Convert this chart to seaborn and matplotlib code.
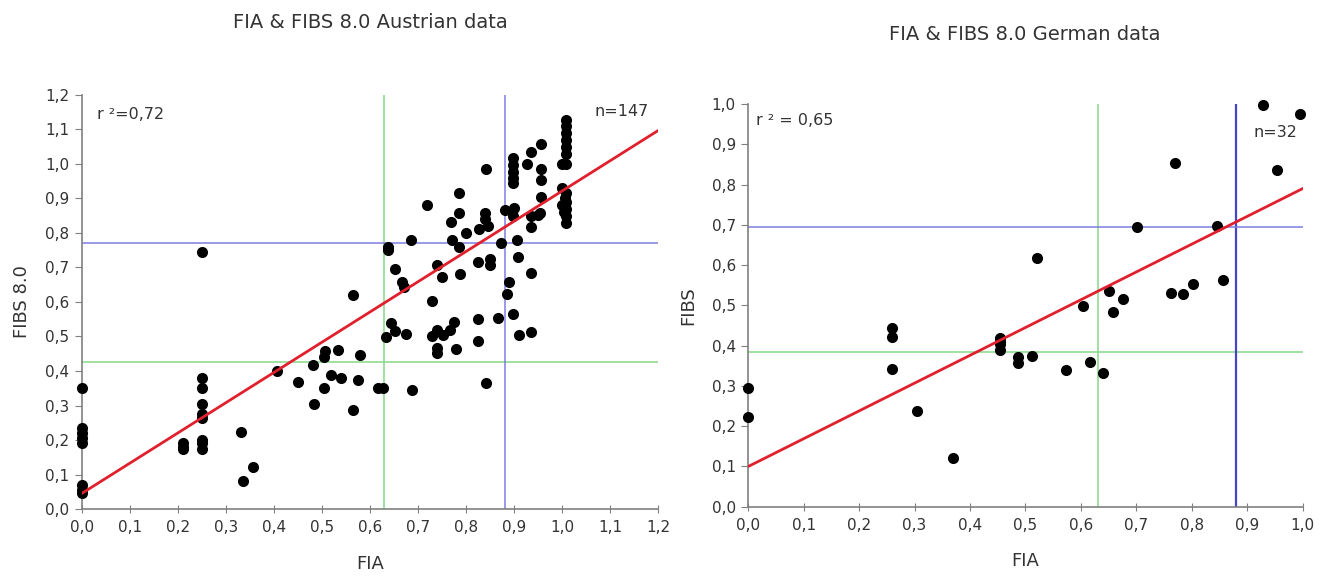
import numpy as np
import pandas as pd
import matplotlib
matplotlib.use("Agg")
import matplotlib.pyplot as plt
from matplotlib.ticker import FuncFormatter, MultipleLocator
import seaborn as sns

# Austrian sample (n=147)
aut_fia = [
    0, 0, 0, 0, 0, 0, 0, 0,
    0.21, 0.21, 0.21,
    0.25, 0.25, 0.25, 0.25, 0.25, 0.25, 0.25, 0.25, 0.25,
    0.332, 0.335, 0.356,
    0.406, 0.45, 0.483, 0.482,
    0.504, 0.505, 0.507, 0.519, 0.533, 0.539, 0.565, 0.575, 0.579, 0.565,
    0.617, 0.628,
    0.688, 0.633, 0.644, 0.651, 0.674, 0.637, 0.637, 0.651, 0.667, 0.671, 0.686,
    0.728, 0.728, 0.739, 0.751, 0.767, 0.774, 0.739, 0.739, 0.779, 0.739, 0.749, 0.719,
    0.824, 0.824, 0.867, 0.898, 0.909, 0.935, 0.841,
    0.768, 0.77, 0.786, 0.8, 0.786, 0.786, 0.788,
    0.841, 0.839, 0.839, 0.827, 0.845, 0.824, 0.85, 0.85, 0.873, 0.88,
    0.897, 0.897, 0.897, 0.897, 0.897, 0.9, 0.897, 0.906, 0.907, 0.89, 0.886,
    0.955, 0.935, 0.927, 0.955, 0.955, 0.955, 0.934, 0.949, 0.935, 0.935, 0.953,
    1.008, 1.008, 1.008, 1.008, 1.008, 1.008, 1.0, 1.008, 1.0, 1.008, 1.005,
    1.008, 1.0, 1.008, 1.003, 1.008, 1.008,
]
aut_fibs = [
    0.35, 0.235, 0.22, 0.205, 0.19, 0.07, 0.056, 0.045,
    0.19, 0.18, 0.175,
    0.38, 0.35, 0.305, 0.275, 0.265, 0.2, 0.19, 0.175, 0.745,
    0.224, 0.081, 0.123,
    0.399, 0.368, 0.303, 0.416,
    0.351, 0.442, 0.459, 0.387, 0.462, 0.38, 0.287, 0.374, 0.445, 0.62,
    0.351, 0.351,
    0.345, 0.498, 0.539, 0.515, 0.508, 0.76, 0.75, 0.697, 0.658, 0.643, 0.779,
    0.603, 0.5, 0.519, 0.503, 0.519, 0.542, 0.467, 0.451, 0.464, 0.706, 0.672, 0.881,
    0.551, 0.488, 0.554, 0.564, 0.503, 0.512, 0.364,
    0.832, 0.781, 0.76, 0.799, 0.857, 0.915, 0.682,
    0.985, 0.857, 0.842, 0.813, 0.82, 0.716, 0.726, 0.706, 0.77, 0.868,
    1.017, 0.997, 0.978, 0.958, 0.944, 0.871, 0.848, 0.781, 0.731, 0.658, 0.624,
    1.058, 1.036, 1.0, 0.985, 0.953, 0.903, 0.849, 0.851, 0.818, 0.684, 0.858,
    1.128, 1.11, 1.09, 1.07, 1.05, 1.03, 1.0, 1.0, 0.93, 0.915, 0.9,
    0.89, 0.88, 0.87, 0.86, 0.85, 0.83,
]

# German sample (n=32)
ger_fia = [
    0, 0, 0.259, 0.259, 0.259, 0.305, 0.37, 0.454, 0.454, 0.454, 0.454,
    0.487, 0.487, 0.511, 0.52, 0.573, 0.603, 0.616, 0.64, 0.651, 0.657,
    0.675, 0.702, 0.762, 0.77, 0.785, 0.802, 0.846, 0.857, 0.928, 0.954, 0.996,
]
ger_fibs = [
    0.294, 0.222, 0.443, 0.421, 0.342, 0.238, 0.12, 0.418, 0.41, 0.405, 0.389,
    0.372, 0.356, 0.374, 0.618, 0.339, 0.498, 0.36, 0.333, 0.536, 0.484,
    0.517, 0.695, 0.531, 0.853, 0.528, 0.553, 0.698, 0.563, 0.998, 0.836, 0.975,
]

# Linear fits (intercept, slope) and cut-off lines
aut_fit = (0.045, 0.877)
ger_fit = (0.10, 0.69)
aut_cut_x = (0.63, 0.88)
aut_cut_y = (0.427, 0.77)
ger_cut_x = (0.63, 0.88)
ger_cut_y = (0.385, 0.695)

sns.set_style("ticks")
plt.rcParams["font.family"] = ["DejaVu Sans"]

GREEN = "#86d986"
BLUE = "#7d7de0"
RED = "#e0202c"
GREY = "#808080"
TXT = "#333333"

fig = plt.figure(figsize=(13.22, 5.76), dpi=100)
ax1 = fig.add_axes([0.0618, 0.1163, 0.4362, 0.7188])
ax2 = fig.add_axes([0.5660, 0.1202, 0.4194, 0.6993])

comma = FuncFormatter(lambda v, p: f"{v:.1f}".replace(".", ","))


def panel(ax, fia, fibs, fit, cut_x, cut_y, lim, ylabel, r2, n,
          r2_pos, n_pos, vblue_color, vblue_lw):
    df = pd.DataFrame({"FIA": fia, "FIBS": fibs})
    ax.axvline(cut_x[0], color=GREEN, lw=1.1, zorder=1)
    ax.axhline(cut_y[0], color=GREEN, lw=1.1, zorder=1)
    ax.axvline(cut_x[1], color=vblue_color, lw=vblue_lw, zorder=1)
    ax.axhline(cut_y[1], color=BLUE, lw=1.1, zorder=1)
    sns.scatterplot(data=df, x="FIA", y="FIBS", ax=ax, color="black",
                    s=64, edgecolor="black", linewidth=0, clip_on=False,
                    zorder=3)
    xs = np.array([0.0, lim[0]])
    ax.plot(xs, fit[0] + fit[1] * xs, color=RED, lw=2.0, zorder=4)
    ax.set_xlim(0, lim[0])
    ax.set_ylim(0, lim[1])
    ax.xaxis.set_major_locator(MultipleLocator(0.1))
    ax.yaxis.set_major_locator(MultipleLocator(0.1))
    ax.xaxis.set_major_formatter(comma)
    ax.yaxis.set_major_formatter(comma)
    for s in ("top", "right"):
        ax.spines[s].set_visible(False)
    for s in ("left", "bottom"):
        ax.spines[s].set_color(GREY)
        ax.spines[s].set_linewidth(1.2)
    ax.tick_params(axis="y", direction="out", length=5, color=GREY,
                   labelsize=11, labelcolor=TXT, pad=4)
    ax.tick_params(axis="x", direction="inout", length=6, color=GREY,
                   labelsize=11, labelcolor=TXT, pad=5)
    ax.set_xlabel("FIA", fontsize=13, color=TXT, labelpad=14)
    ax.set_ylabel(ylabel, fontsize=13, color=TXT, labelpad=10)
    ax.text(r2_pos[0], r2_pos[1], r2, fontsize=11.5, color=TXT,
            va="center", ha="left")
    ax.text(n_pos[0], n_pos[1], n, fontsize=11.5, color=TXT,
            va="center", ha="left")
    return ax


panel(ax1, aut_fia, aut_fibs, aut_fit, aut_cut_x, aut_cut_y, (1.2, 1.2),
      "FIBS 8.0", "r ²=0,72", "n=147",
      (0.032, 1.142), (1.068, 1.152), BLUE, 1.1)
panel(ax2, ger_fia, ger_fibs, ger_fit, ger_cut_x, ger_cut_y, (1.0, 1.0),
      "FIBS", "r ² = 0,65", "n=32",
      (0.014, 0.96), (0.911, 0.929), "#4545c8", 1.6)

fig.text(370 / 1322, 1 - 22 / 576, "FIA & FIBS 8.0 Austrian data",
         fontsize=14, color=TXT, ha="center", va="center")
fig.text(1025 / 1322, 1 - 35 / 576, "FIA & FIBS 8.0 German data",
         fontsize=14, color=TXT, ha="center", va="center")

fig.savefig("out.png", dpi=100, facecolor="white")
